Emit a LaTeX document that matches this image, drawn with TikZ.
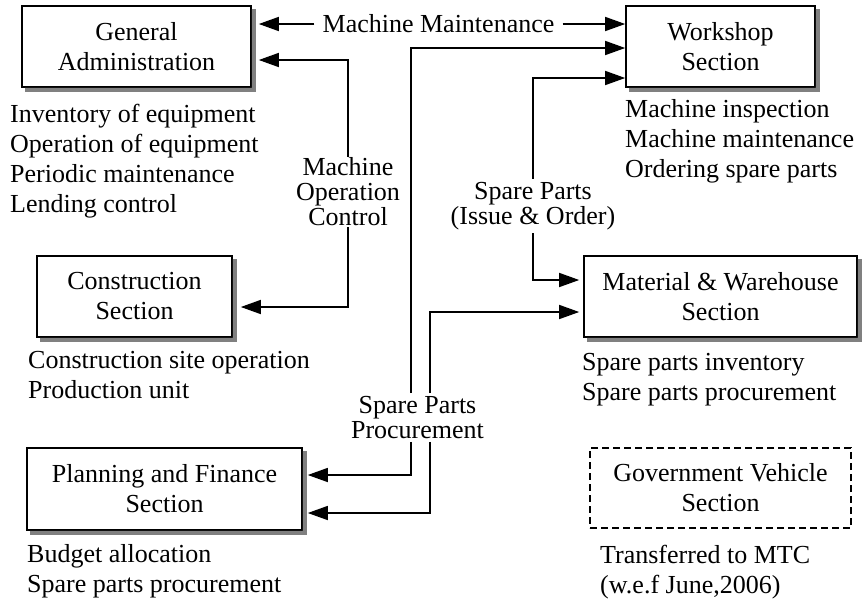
\documentclass[tikz,border=0pt]{standalone}
\usepackage{fontspec}
\setmainfont{Liberation Serif}
\usetikzlibrary{arrows.meta,calc}
\definecolor{shadowgrey}{RGB}{128,128,128}
\begin{document}
\begin{tikzpicture}[x=1pt,y=-1pt,
  box/.style={draw,line width=1.6pt,fill=white,align=center,
    font=\fontsize{26}{30}\selectfont,inner sep=0pt},
  lbl/.style={align=center,font=\fontsize{26}{25}\selectfont,inner sep=0pt},
  items/.style={align=left,anchor=north west,
    font=\fontsize{26}{30}\selectfont,inner sep=0pt},
  arr/.style={line width=1.5pt,-{Triangle[length=20pt,width=14pt]}}]

\useasboundingbox (0,0) rectangle (863,603);

% section boxes
\node[box,minimum width=229pt,minimum height=81pt] (ga) at (136.5,46.5)
  {General\\Administration};
\node[box,minimum width=189pt,minimum height=81pt] (ws) at (720.5,46.5)
  {Workshop\\Section};
\node[box,minimum width=195pt,minimum height=81pt] (cs) at (134.5,296.5)
  {Construction\\Section};
\node[box,minimum width=273pt,minimum height=81pt] (mw) at (720.5,296.5)
  {Material \& Warehouse\\Section};
\node[box,minimum width=275pt,minimum height=82pt] (pf) at (164.5,489)
  {Planning and Finance\\Section};
\node[box,dash pattern=on 7pt off 4pt,minimum width=261pt,minimum height=80pt] (gv) at (720.5,488)
  {Government Vehicle\\Section};

% drop shadow strips along the right and bottom edges of the solid boxes
\foreach \b in {ga,ws,cs,mw,pf}{
  \fill[shadowgrey] ($(\b.north east)+(0,4)$) -- ($(\b.north east)+(4,4)$)
    -- ($(\b.south east)+(4,4)$) -- ($(\b.south west)+(4,4)$)
    -- ($(\b.south west)+(4,0)$) -- (\b.south east) -- cycle;
}

% duties listed under each section
\node[items] (gaitems) at (10,104)
  {Inventory of equipment\\Operation of equipment\\Periodic maintenance\\Lending control};
\node[items] (wsitems) at (625,99.5)
  {Machine inspection\\Machine maintenance\\Ordering spare parts};
\node[items] (csitems) at (28,351.5)
  {Construction site operation\\Production unit};
\node[items] (mwitems) at (582,353.5)
  {Spare parts inventory\\Spare parts procurement};
\node[items] (pfitems) at (27,544.5)
  {Budget allocation\\Spare parts procurement};
\node[items] (gvitems) at (600,544.5)
  {Transferred to MTC\\(w.e.f June,2006)};

% flow labels
\node[lbl,inner xsep=8pt] (mm) at (438.5,24) {Machine Maintenance};
\node[lbl,inner ysep=1pt] (moc) at (348,192) {Machine\\Operation\\Control};
\node[lbl,inner ysep=3pt] (spi) at (533,206) {Spare Parts\\(Issue \& Order)};
\node[lbl,inner ysep=3pt] (spp) at (417.5,417.5) {Spare Parts\\Procurement};

\coordinate (lineA) at (411,0);
\coordinate (lineB) at (430,0);

% machine maintenance: both ways
\draw[arr] (mm.west) -- ($(ga.east |- mm.west)+(7,0)$);
\draw[arr] (mm.east) -- (ws.west |- mm.east);

% machine operation control
\draw[arr] (moc.north) |- ($(ga.east)+(7,13.5)$);
\draw[arr] (moc.south) |- ($(cs.east)+(8,10.5)$);

% spare parts issue & order
\draw[arr] (spi.north) |- ($(ws.west)+(0,31.5)$);
\draw[arr] (spi.south) |- ($(mw.west)+(-4,-16.5)$);

% spare parts procurement
\draw[arr] (spp.north -| lineA) |- ($(ws.west)+(0,1.5)$);
\draw[arr] (spp.south -| lineA) |- ($(pf.east)+(5,-14)$);
\draw[arr] (spp.north -| lineB) |- ($(mw.west)+(-4,15.5)$);
\draw[arr] (spp.south -| lineB) |- ($(pf.east)+(5,24)$);
\end{tikzpicture}
\end{document}
